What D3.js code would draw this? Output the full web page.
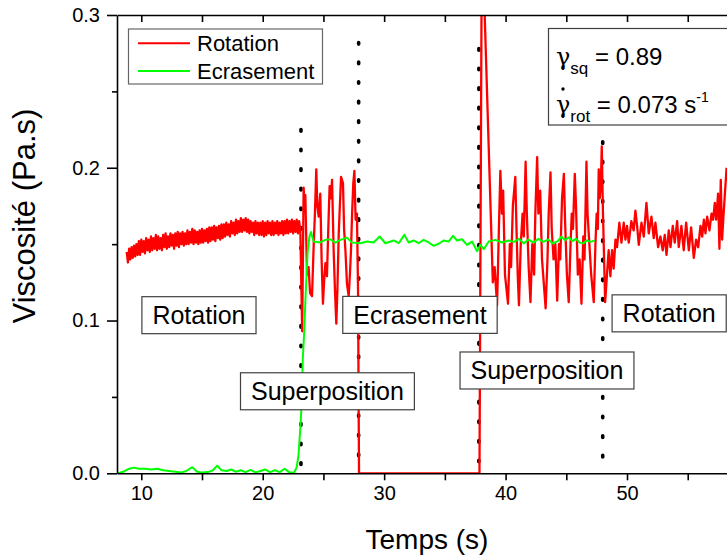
<!DOCTYPE html>
<html>
<head>
<meta charset="utf-8">
<script src="https://cdn.jsdelivr.net/npm/d3@7"></script>
<style>
  html, body { margin: 0; padding: 0; background: #fff; }
  svg { display: block; }
  text { font-family: Arial, "Liberation Sans", sans-serif; }
</style>
</head>
<body>
<div id="chart"></div>
<script>
// ---------------- DATA ----------------
const xTickValues = [10, 20, 30, 40, 50];
const xMinorTicks = [10, 15, 20, 25, 30, 35, 40, 45, 50, 55];
const yTickValues = [0.0, 0.1, 0.2, 0.3];
const yMinorTicks = [0.0, 0.05, 0.1, 0.15, 0.2, 0.25, 0.3];
const xTitle = "Temps (s)";
const yTitle = "Viscosité (Pa.s)";
const seriesNames = ["Rotation", "Ecrasement"];

// Rotation: first phase sampled every 0.1 s starting at 8.8 s (dense fluctuations)
const rotBandStart = 8.8, rotBandStep = 0.1;
const rotBand = [
  0.145, 0.138, 0.147, 0.140, 0.148, 0.141, 0.149, 0.142, 0.150, 0.143,
  0.152, 0.143, 0.153, 0.145, 0.152, 0.144, 0.154, 0.146, 0.153, 0.145,
  0.155, 0.146, 0.154, 0.147, 0.156, 0.146, 0.155, 0.147, 0.154, 0.146,
  0.156, 0.148, 0.157, 0.147, 0.155, 0.148, 0.157, 0.149, 0.156, 0.147,
  0.157, 0.149, 0.158, 0.148, 0.157, 0.150, 0.158, 0.149, 0.157, 0.150,
  0.159, 0.150, 0.158, 0.151, 0.160, 0.150, 0.159, 0.151, 0.158, 0.150,
  0.159, 0.151, 0.160, 0.151, 0.159, 0.152, 0.160, 0.151, 0.161, 0.152,
  0.161, 0.153, 0.162, 0.152, 0.161, 0.154, 0.162, 0.153, 0.163, 0.154,
  0.163, 0.155, 0.164, 0.156, 0.163, 0.155, 0.165, 0.157, 0.164, 0.156,
  0.166, 0.157, 0.165, 0.158, 0.167, 0.158, 0.166, 0.159, 0.167, 0.158,
  0.166, 0.157, 0.165, 0.158, 0.164, 0.156, 0.165, 0.157, 0.164, 0.156,
  0.164, 0.156, 0.165, 0.155, 0.164, 0.156, 0.165, 0.157, 0.164, 0.156,
  0.165, 0.156, 0.164, 0.157, 0.165, 0.156, 0.164, 0.157, 0.165, 0.156,
  0.165, 0.157, 0.166, 0.157, 0.165, 0.158, 0.166, 0.157, 0.165, 0.158,
  0.166, 0.157, 0.165, 0.158
];
// Rotation: first superposition (time s, viscosity)
const rotSuper1 = [
  [23.25, 0.093], [23.37, 0.187], [23.45, 0.175], [23.51, 0.182], [23.65, 0.130],
  [23.78, 0.135], [23.9, 0.118], [24.06, 0.116], [24.2, 0.150], [24.3, 0.170],
  [24.41, 0.199], [24.5, 0.175], [24.61, 0.168], [24.74, 0.183], [24.85, 0.140],
  [24.96, 0.111], [25.05, 0.125], [25.16, 0.1375], [25.29, 0.129], [25.4, 0.160],
  [25.51, 0.188], [25.6, 0.180], [25.71, 0.192], [25.84, 0.146], [25.95, 0.120],
  [26.06, 0.098], [26.15, 0.120], [26.26, 0.157], [26.45, 0.194], [26.61, 0.190],
  [26.7, 0.160], [26.81, 0.146], [26.94, 0.124], [27.08, 0.116], [27.18, 0.130],
  [27.27, 0.146], [27.36, 0.170], [27.46, 0.190], [27.55, 0.198], [27.65, 0.166],
  [27.76, 0.170], [27.85, 0.120], [27.93, 0.0]
];
// Rotation: stopped during squeeze, then second superposition
const rotSuper2 = [
  [37.85, 0.0], [38.05, 0.36], [38.95, 0.125], [39.1, 0.135], [39.3, 0.110],
  [39.45, 0.160], [39.57, 0.198], [39.7, 0.170], [39.8, 0.185], [39.95, 0.130],
  [40.2, 0.111], [40.35, 0.150], [40.45, 0.135], [40.6, 0.175], [40.8, 0.194],
  [40.9, 0.160], [41.0, 0.130], [41.1, 0.110], [41.25, 0.150], [41.4, 0.170],
  [41.5, 0.155], [41.65, 0.204], [41.75, 0.170], [41.9, 0.135], [42.05, 0.112],
  [42.2, 0.150], [42.35, 0.130], [42.45, 0.170], [42.6, 0.207], [42.7, 0.170],
  [42.85, 0.185], [43.0, 0.140], [43.3, 0.108], [43.45, 0.140], [43.55, 0.170],
  [43.7, 0.197], [43.8, 0.160], [43.95, 0.140], [44.1, 0.150], [44.25, 0.113],
  [44.4, 0.150], [44.5, 0.140], [44.65, 0.180], [44.8, 0.196], [44.9, 0.165],
  [45.05, 0.130], [45.2, 0.112], [45.35, 0.150], [45.45, 0.170], [45.55, 0.160],
  [45.7, 0.196], [45.8, 0.175], [45.95, 0.130], [46.1, 0.140], [46.25, 0.111],
  [46.4, 0.155], [46.5, 0.140], [46.66, 0.204], [46.75, 0.170], [46.9, 0.150],
  [47.05, 0.130], [47.26, 0.112], [47.4, 0.150], [47.5, 0.170], [47.6, 0.160],
  [47.67, 0.199], [47.75, 0.180], [47.85, 0.190], [47.92, 0.214], [48.02, 0.170],
  [48.2, 0.112]
];
// Rotation: final rotation phase
const rotFinal = [
  [48.35, 0.130], [48.49, 0.146], [48.63, 0.129], [48.77, 0.146], [48.9, 0.134],
  [49.05, 0.153], [49.18, 0.148], [49.37, 0.164], [49.54, 0.151], [49.73, 0.164],
  [49.87, 0.153], [50.0, 0.162], [50.14, 0.151], [50.36, 0.165], [50.55, 0.159],
  [50.69, 0.172], [50.83, 0.162], [50.97, 0.1495], [51.19, 0.164], [51.38, 0.155],
  [51.6, 0.177], [51.79, 0.157], [52.01, 0.168], [52.2, 0.154], [52.34, 0.164],
  [52.56, 0.148], [52.75, 0.155], [52.94, 0.146], [53.11, 0.156], [53.25, 0.143],
  [53.44, 0.159], [53.58, 0.148], [53.77, 0.162], [53.93, 0.151], [54.13, 0.165],
  [54.26, 0.148], [54.48, 0.162], [54.67, 0.146], [54.87, 0.164], [55.09, 0.146],
  [55.28, 0.161], [55.5, 0.141], [55.69, 0.153], [55.86, 0.148], [56.05, 0.162],
  [56.19, 0.155], [56.33, 0.166], [56.46, 0.157], [56.6, 0.168], [56.79, 0.159],
  [56.96, 0.170], [57.09, 0.166], [57.23, 0.177], [57.34, 0.166], [57.5, 0.183],
  [57.61, 0.147], [57.72, 0.192], [57.83, 0.153], [57.94, 0.168], [58.2, 0.200]
];
// Ecrasement (squeeze)
const ecrData = [
  [8.1, 0.0], [8.5, 0.001], [9.0, 0.003], [9.4, 0.0037], [9.8, 0.003], [10.3, 0.003],
  [10.8, 0.0025], [11.3, 0.003], [11.8, 0.002], [12.3, 0.0015], [12.8, 0.001],
  [13.3, 0.0005], [13.7, 0.0015], [14.2, 0.004], [14.6, 0.001], [15.0, 0.0005],
  [15.5, 0.0008], [15.9, 0.002], [16.25, 0.005], [16.6, 0.002], [17.0, 0.0015],
  [17.4, 0.0025], [17.8, 0.001], [18.2, 0.002], [18.6, 0.0008], [19.0, 0.0022],
  [19.4, 0.0006], [19.8, 0.0015], [20.2, 0.0025], [20.6, 0.0008], [21.0, 0.002],
  [21.4, 0.0008], [21.8, 0.003], [22.2, 0.0006], [22.6, 0.0005], [22.8, 0.004],
  [22.95, 0.012], [23.1, 0.030], [23.2, 0.045], [23.3, 0.075], [23.4, 0.090],
  [23.55, 0.120], [23.7, 0.145], [23.85, 0.155], [23.97, 0.158], [24.19, 0.1517],
  [24.74, 0.1511], [25.16, 0.1528], [25.57, 0.1532], [25.98, 0.151], [26.39, 0.1528],
  [26.94, 0.1543], [27.35, 0.151], [28.04, 0.1506], [28.59, 0.1517], [29.13, 0.1511],
  [29.63, 0.155], [30.1, 0.1506], [30.78, 0.1524], [31.2, 0.1506], [31.66, 0.1561],
  [32.02, 0.1511], [32.43, 0.1524], [32.84, 0.1506], [33.25, 0.1528], [33.67, 0.1511],
  [34.08, 0.1489], [34.57, 0.1506], [34.9, 0.1524], [35.31, 0.1517], [35.67, 0.1554],
  [36.0, 0.1524], [36.41, 0.1532], [36.82, 0.1495], [37.24, 0.1517], [37.65, 0.1454],
  [37.92, 0.1495], [38.2, 0.1467], [38.61, 0.1517], [39.16, 0.1528], [39.71, 0.1511],
  [40.26, 0.1524], [40.7, 0.1515], [41.1, 0.1535], [41.5, 0.1505], [41.9, 0.153],
  [42.3, 0.151], [42.7, 0.1535], [43.1, 0.1515], [43.5, 0.153], [43.9, 0.1505],
  [44.3, 0.152], [44.6, 0.155], [44.9, 0.1525], [45.2, 0.1545], [45.5, 0.152],
  [45.8, 0.1535], [46.1, 0.151], [46.4, 0.1505], [46.7, 0.1525], [47.0, 0.1515],
  [47.35, 0.1525]
];
// Phase boundaries (time s, top viscosity of dotted marker)
const phaseTimes = [23.15, 27.9, 37.8, 48.0];
const phaseTops = [0.225, 0.282, 0.278, 0.217];
// Phase labels (text, time, viscosity at centre)
const phaseLabels = ["Rotation", "Superposition", "Ecrasement", "Superposition", "Rotation"];
const phaseLabelT = [14.75, 25.33, 32.95, 43.41, 53.47];
const phaseLabelV = [0.1035, 0.0537, 0.1037, 0.0673, 0.1047];

// ---------------- CHART ----------------
const W = 727, H = 560;
const L = 117, R = 736.3, T = 15, B = 473.3;
const x = d3.scaleLinear().domain([8, 59]).range([L, R]);
const y = d3.scaleLinear().domain([0, 0.3]).range([B, T]);

const svg = d3.select("#chart").append("svg")
  .attr("width", W).attr("height", H).attr("viewBox", `0 0 ${W} ${H}`);

svg.append("defs").append("clipPath").attr("id", "plotclip")
  .append("rect").attr("x", L).attr("y", T).attr("width", R - L).attr("height", B - T);

const rotation = rotBand.map((v, i) => [rotBandStart + i * rotBandStep, v])
  .concat(rotSuper1, rotSuper2, rotFinal);

const line = d3.line().x(d => x(d[0])).y(d => y(d[1]));
const plot = svg.append("g").attr("clip-path", "url(#plotclip)");

// dotted phase separators
plot.selectAll("line.phase").data(phaseTimes).join("line")
  .attr("class", "phase")
  .attr("x1", d => x(d)).attr("x2", d => x(d))
  .attr("y1", (d, i) => y(phaseTops[i])).attr("y2", y(0))
  .attr("stroke", "#000").attr("stroke-width", 3.6)
  .attr("stroke-linecap", "round").attr("stroke-dasharray", "1.6 18");

plot.append("path").datum(rotation)
  .attr("d", line).attr("fill", "none").attr("stroke", "#ff0000")
  .attr("stroke-width", 2.3).attr("stroke-linejoin", "round");

plot.append("path").datum(ecrData)
  .attr("d", line).attr("fill", "none").attr("stroke", "#00ff00")
  .attr("stroke-width", 2).attr("stroke-linejoin", "round");

// ---------- axes ----------
const fmtX = d => (xTickValues.includes(d) ? d3.format("d")(d) : "");
const xAxisB = svg.append("g").attr("transform", `translate(0,${B})`)
  .call(d3.axisBottom(x).tickValues(xMinorTicks).tickFormat(fmtX).tickSizeInner(7).tickSizeOuter(0).tickPadding(6));
const xAxisT = svg.append("g").attr("transform", `translate(0,${T})`)
  .call(d3.axisTop(x).tickValues(xMinorTicks).tickFormat("").tickSizeInner(-7).tickSizeOuter(0));
const isMajorY = d => yTickValues.some(v => Math.abs(v - d) < 1e-9);
const yAxisL = svg.append("g").attr("transform", `translate(${L},0)`)
  .call(d3.axisLeft(y).tickValues(yMinorTicks)
    .tickFormat(d => isMajorY(d) ? d3.format(".1f")(d) : "")
    .tickSizeInner(10).tickSizeOuter(0).tickPadding(7));
yAxisL.selectAll(".tick").filter(d => !isMajorY(d)).select("line").attr("x2", -5);
svg.append("line").attr("x1", R).attr("x2", R).attr("y1", T).attr("y2", B)
  .attr("stroke", "#000").attr("stroke-width", 1.6);

[xAxisB, xAxisT, yAxisL].forEach(g => {
  g.selectAll("path.domain").attr("stroke", "#000").attr("stroke-width", 1.6);
  g.selectAll(".tick line").attr("stroke", "#000").attr("stroke-width", 1.6);
  g.selectAll(".tick text").attr("font-size", 20).attr("fill", "#000")
    .attr("font-family", "Arial, 'Liberation Sans', sans-serif");
});

svg.append("text").attr("x", 427).attr("y", 549).attr("text-anchor", "middle")
  .attr("font-size", 28).text(xTitle);
svg.append("text").attr("transform", "translate(35,216) rotate(-90)")
  .attr("text-anchor", "middle").attr("font-size", 31).text(yTitle);

// ---------- legend ----------
const leg = svg.append("g");
leg.append("rect").attr("x", 128.5).attr("y", 29).attr("width", 194).attr("height", 55)
  .attr("fill", "#fff").attr("stroke", "#666").attr("stroke-width", 1.2);
const legColors = ["#ff0000", "#00ff00"];
seriesNames.forEach((n, i) => {
  const yy = 43.3 + i * 27.7;
  leg.append("line").attr("x1", 138).attr("x2", 190).attr("y1", yy).attr("y2", yy)
    .attr("stroke", legColors[i]).attr("stroke-width", 2);
  leg.append("text").attr("x", 197).attr("y", yy + 8).attr("font-size", 22).text(n);
});

// ---------- parameter box ----------
const pb = svg.append("g");
pb.append("rect").attr("x", 548.5).attr("y", 28.5).attr("width", 190).attr("height", 96.5)
  .attr("fill", "#fff").attr("stroke", "#404040").attr("stroke-width", 1.2);
const t1 = pb.append("text").attr("x", 556).attr("y", 65).attr("font-size", 24);
t1.append("tspan").attr("font-family", "'DejaVu Serif', serif").text("γ");
t1.append("tspan").attr("font-size", 17).attr("dy", 9).text("sq");
t1.append("tspan").attr("dy", -9).text(" = 0.89");
const t2 = pb.append("text").attr("x", 556).attr("y", 113).attr("font-size", 24);
t2.append("tspan").attr("font-family", "'DejaVu Serif', serif").text("γ");
t2.append("tspan").attr("font-size", 17).attr("dy", 9).text("rot");
t2.append("tspan").attr("dy", -9).text(" = 0.073 s");
t2.append("tspan").attr("font-size", 14).attr("dy", -11).text("-1");
pb.append("circle").attr("cx", 563).attr("cy", 89).attr("r", 1.7).attr("fill", "#000");

// ---------- phase labels ----------
phaseLabels.forEach((s, i) => {
  const g = svg.append("g");
  const cx = x(phaseLabelT[i]), cy = y(phaseLabelV[i]);
  const rect = g.append("rect").attr("fill", "#fff").attr("stroke", "#404040").attr("stroke-width", 1.2);
  const txt = g.append("text").attr("x", cx).attr("y", cy + 9).attr("text-anchor", "middle")
    .attr("font-size", 25).text(s);
  const w = txt.node().getComputedTextLength() + 21;
  rect.attr("x", cx - w / 2).attr("y", cy - 18.5).attr("width", w).attr("height", 37);
});
</script>
</body>
</html>
